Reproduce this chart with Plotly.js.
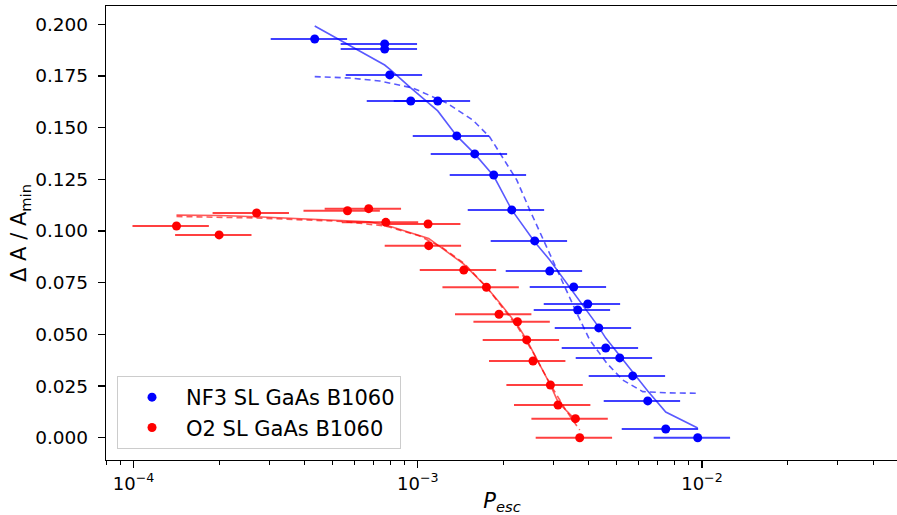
<!DOCTYPE html>
<html>
<head>
<meta charset="utf-8">
<script src="https://cdn.plot.ly/plotly-3.0.1.min.js"></script>
<style>html,body{margin:0;padding:0;overflow:hidden;background:#fff;}</style>
</head>
<body>
<div id="chart" style="width:899px;height:515px;"></div>
<script>
// NF3 SL GaAs B1060 data
const blueX = [4.34e-4, 7.65e-4, 7.65e-4, 7.97e-4, 9.45e-4, 1.176e-3, 1.372e-3, 1.587e-3, 1.851e-3, 2.142e-3, 2.580e-3, 2.914e-3, 3.539e-3, 3.965e-3, 3.656e-3, 4.335e-3, 4.587e-3, 5.138e-3, 5.708e-3, 6.447e-3, 7.46e-3, 9.665e-3];
const blueY = [0.1929, 0.1905, 0.1880, 0.1755, 0.1629, 0.1629, 0.1460, 0.1373, 0.1271, 0.1102, 0.0952, 0.0806, 0.0729, 0.0647, 0.0618, 0.0531, 0.0434, 0.0386, 0.0299, 0.0178, 0.0042, 0.0];
// NF3 fit (solid)
const blueFitX = [4.34e-4, 7.65e-4, 7.97e-4, 9.45e-4, 1.176e-3, 1.372e-3, 1.587e-3, 1.851e-3, 2.142e-3, 2.580e-3, 2.914e-3, 3.539e-3, 3.656e-3, 3.965e-3, 4.335e-3, 4.587e-3, 5.138e-3, 5.708e-3, 6.447e-3, 7.46e-3, 9.665e-3];
const blueFitY = [0.1992, 0.1803, 0.1783, 0.1692, 0.1581, 0.1460, 0.1373, 0.1266, 0.1102, 0.0947, 0.0860, 0.0700, 0.0671, 0.0608, 0.0535, 0.0482, 0.0395, 0.0318, 0.0226, 0.0124, 0.0047];
// NF3 model (dashed)
const blueDashX = [4.34e-4, 5.76e-4, 7.35e-4, 9.60e-4, 1.265e-3, 1.561e-3, 1.792e-3, 1.991e-3, 2.230e-3, 2.478e-3, 2.687e-3, 2.962e-3, 3.237e-3, 3.627e-3, 4.029e-3, 4.624e-3, 5.264e-3, 6.19e-3, 7.5e-3, 9.665e-3];
const blueDashY = [0.1747, 0.1740, 0.1726, 0.1692, 0.1619, 0.1537, 0.1455, 0.1358, 0.1247, 0.1102, 0.0995, 0.0874, 0.0748, 0.0603, 0.0473, 0.0361, 0.0279, 0.0223, 0.0217, 0.0215];

// O2 SL GaAs B1060 data
const redX = [1.416e-4, 2.00e-4, 2.71e-4, 5.66e-4, 6.72e-4, 7.72e-4, 1.087e-3, 1.093e-3, 1.452e-3, 1.745e-3, 1.932e-3, 2.243e-3, 2.418e-3, 2.545e-3, 2.930e-3, 3.116e-3, 3.588e-3, 3.715e-3];
const redY = [0.1024, 0.0981, 0.1087, 0.1098, 0.1108, 0.1042, 0.1034, 0.0929, 0.0811, 0.0728, 0.0597, 0.0561, 0.0473, 0.0371, 0.0255, 0.0158, 0.0092, 0.0];
// O2 fit (solid)
const redFitX = [1.416e-4, 2.00e-4, 2.71e-4, 5.66e-4, 6.72e-4, 7.72e-4, 1.087e-3, 1.093e-3, 1.452e-3, 1.745e-3, 1.932e-3, 2.243e-3, 2.418e-3, 2.545e-3, 2.930e-3, 3.116e-3, 3.588e-3];
const redFitY = [0.1077, 0.1075, 0.1069, 0.1051, 0.1044, 0.1029, 0.0966, 0.0964, 0.0840, 0.0729, 0.0657, 0.0545, 0.0473, 0.0415, 0.0255, 0.0173, 0.0086];
// O2 model (dashed)
const redDashX = [1.416e-4, 2.71e-4, 5.45e-4, 7.72e-4, 1.016e-3, 1.224e-3, 1.452e-3, 1.745e-3, 1.943e-3, 2.248e-3, 2.539e-3, 2.938e-3, 3.317e-3, 3.715e-3];
const redDashY = [0.1070, 0.1063, 0.1046, 0.1024, 0.0976, 0.0918, 0.0845, 0.0729, 0.0647, 0.0535, 0.0415, 0.0255, 0.0134, 0.0037];

const xErrPercent = 30;
const seriesNames = ['NF3 SL GaAs B1060', 'O2 SL GaAs B1060'];

const xTickVals = [1e-4, 1e-3, 1e-2];
const xTickText = ['10<sup>−4</sup>', '10<sup>−3</sup>', '10<sup>−2</sup>'];
const yTickVals = [0, 0.025, 0.05, 0.075, 0.1, 0.125, 0.15, 0.175, 0.2];

const minorTicks = [];
[1e-5, 1e-4, 1e-3, 1e-2].forEach(d => { for (let k = 2; k <= 9; k++) minorTicks.push(k * d); });

const font = 'DejaVu Sans, sans-serif';

const traces = [
  {x: blueFitX, y: blueFitY, mode: 'lines', line: {color: 'rgba(0,0,255,0.65)', width: 1.6}, showlegend: false, hoverinfo: 'skip'},
  {x: blueDashX, y: blueDashY, mode: 'lines', line: {color: 'rgba(0,0,255,0.65)', width: 1.6, dash: '6px,4px'}, showlegend: false, hoverinfo: 'skip'},
  {x: redFitX, y: redFitY, mode: 'lines', line: {color: 'rgba(255,0,0,0.65)', width: 1.6}, showlegend: false, hoverinfo: 'skip'},
  {x: redDashX, y: redDashY, mode: 'lines', line: {color: 'rgba(255,0,0,0.65)', width: 1.6, dash: '6px,4px'}, showlegend: false, hoverinfo: 'skip'},
  {x: blueX, y: blueY, mode: 'markers', name: seriesNames[0],
   marker: {color: '#0000ff', size: 9},
   error_x: {type: 'percent', value: xErrPercent, color: 'rgba(0,0,255,0.75)', thickness: 2, width: 0}},
  {x: redX, y: redY, mode: 'markers', name: seriesNames[1],
   marker: {color: '#ff0000', size: 9},
   error_x: {type: 'percent', value: xErrPercent, color: 'rgba(255,0,0,0.75)', thickness: 2, width: 0}}
];

const layout = {
  width: 899, height: 515,
  margin: {l: 106, r: 1, t: 6, b: 55},
  paper_bgcolor: '#fff', plot_bgcolor: '#fff',
  font: {family: font, color: '#000', size: 18},
  showlegend: true,
  legend: {x: 0.0139, y: 0.0242, xanchor: 'left', yanchor: 'bottom',
           itemwidth: 58,
           font: {family: font, size: 21, color: '#000'},
           bordercolor: '#cccccc', borderwidth: 1, bgcolor: 'rgba(255,255,255,0.8)'},
  xaxis: {
    type: 'log', range: [-4.097, -1.310],
    tickmode: 'array', tickvals: xTickVals, ticktext: xTickText,
    ticks: 'outside', ticklen: 7, tickwidth: 1.2, tickcolor: '#000',
    minor: {tickmode: 'array', tickvals: minorTicks, ticks: 'outside', ticklen: 4, tickwidth: 1, tickcolor: '#000', showgrid: false},
    showgrid: false, zeroline: false,
    showline: true, linecolor: '#000', linewidth: 1.2, mirror: true,
    tickfont: {family: font, size: 18, color: '#000'},
    title: {text: '<i>P</i><sub><i>esc</i></sub>', font: {family: font, size: 21, color: '#000'}, standoff: 6}
  },
  yaxis: {
    range: [-0.01079, 0.20885],
    tickmode: 'array', tickvals: yTickVals, tickformat: '.3f',
    ticks: 'outside', ticklen: 7, tickwidth: 1.2, tickcolor: '#000',
    ticklabelstandoff: 6,
    showgrid: false, zeroline: false,
    showline: true, linecolor: '#000', linewidth: 1.2, mirror: true,
    tickfont: {family: font, size: 18.5, color: '#000'},
    title: {text: 'Δ A / A<sub>min</sub>', font: {family: font, size: 21, color: '#000'}, standoff: 2}
  }
};

Plotly.newPlot('chart', traces, layout, {displayModeBar: false, staticPlot: true});
</script>
</body>
</html>
